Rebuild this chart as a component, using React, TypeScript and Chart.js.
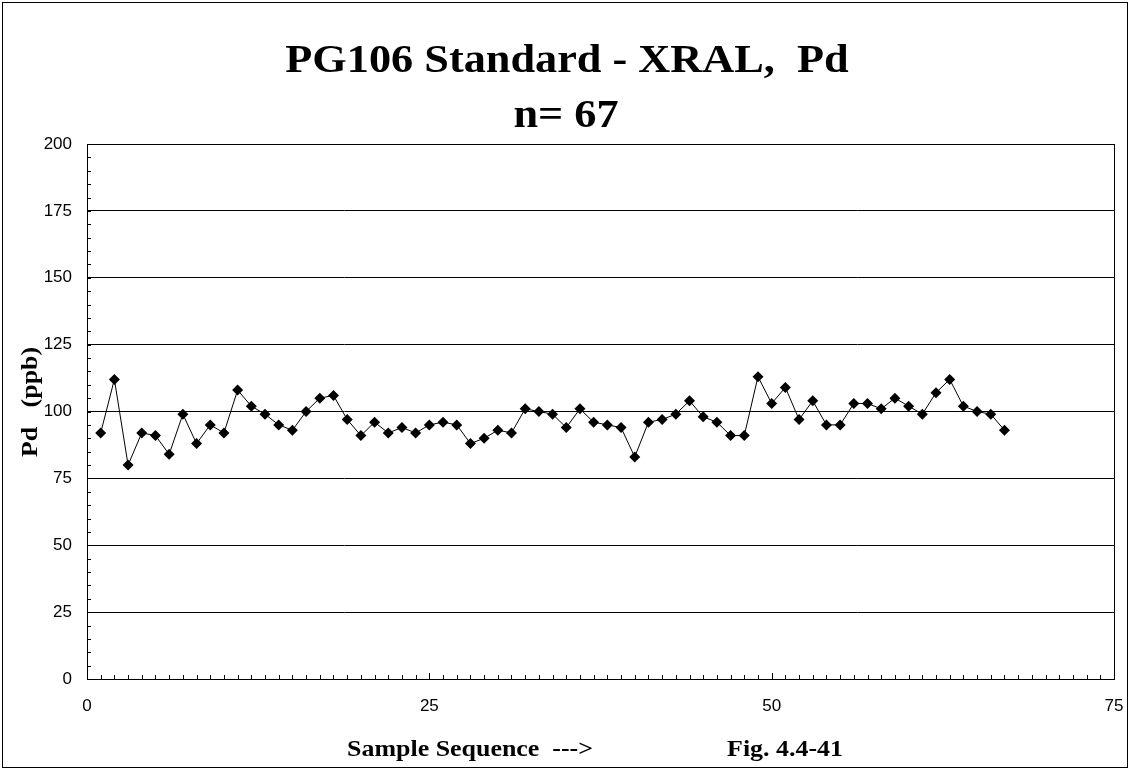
import React, { useEffect, useRef } from 'react';
import { Chart, registerables } from 'chart.js';

Chart.register(...registerables);

const TITLE_LINES = ['PG106 Standard - XRAL,  Pd', 'n= 67'];
const X_TITLE = 'Sample Sequence  --->';
const FIG_LABEL = 'Fig. 4.4-41';
const Y_TITLE = 'Pd   (ppb)';

const PD_VALUES = [
  92, 112, 80, 92, 91, 84, 99, 88, 95, 92,
  108, 102, 99, 95, 93, 100, 105, 106, 97, 91,
  96, 92, 94, 92, 95, 96, 95, 88, 90, 93,
  92, 101, 100, 99, 94, 101, 96, 95, 94, 83,
  96, 97, 99, 104, 98, 96, 91, 91, 113, 103,
  109, 97, 104, 95, 95, 103, 103, 101, 105, 102,
  99, 107, 112, 102, 100, 99, 93,
];

const Y_MIN = 0;
const Y_MAX = 200;
const Y_STEP = 25;
const Y_MINOR = 5;
const X_MIN = 0;
const X_MAX = 75;
const X_STEP = 25;
const X_MINOR = 1;

const SERIF = '"Liberation Serif", "Times New Roman", serif';
const STRETCH = 1.08;

function stretchedText(ctx: CanvasRenderingContext2D, text: string, x: number, y: number, rotate = 0) {
  ctx.save();
  ctx.translate(x, y);
  if (rotate) ctx.rotate(rotate);
  ctx.scale(STRETCH, 1);
  ctx.fillText(text, 0, 0);
  ctx.restore();
}

const decorPlugin = {
  id: 'decor',
  beforeDraw(chart: any) {
    const { ctx, width, height } = chart;
    ctx.save();
    ctx.fillStyle = '#ffffff';
    ctx.fillRect(0, 0, width, height);
    ctx.restore();
  },
  afterDraw(chart: any) {
    const { ctx, chartArea, scales } = chart;
    const xs = scales.x;
    const ys = scales.y;
    ctx.save();
    ctx.strokeStyle = '#000';
    ctx.lineWidth = 1;
    // outer frame
    ctx.strokeRect(2.5, 2.5, 1125, 765);
    // plot frame
    ctx.strokeRect(
      Math.round(chartArea.left) + 0.5,
      Math.round(chartArea.top) + 0.5,
      Math.round(chartArea.right - chartArea.left),
      Math.round(chartArea.bottom - chartArea.top)
    );
    // minor ticks, inside
    ctx.beginPath();
    for (let v = Y_MIN; v <= Y_MAX; v += Y_MINOR) {
      const y = Math.round(ys.getPixelForValue(v)) + 0.5;
      ctx.moveTo(chartArea.left, y);
      ctx.lineTo(chartArea.left + 4, y);
    }
    for (let v = X_MIN; v <= X_MAX; v += X_MINOR) {
      const x = Math.round(xs.getPixelForValue(v)) + 0.5;
      const len = v % X_STEP === 0 ? 6 : 4;
      ctx.moveTo(x, chartArea.bottom);
      ctx.lineTo(x, chartArea.bottom - len);
    }
    ctx.stroke();

    // titles
    ctx.fillStyle = '#000';
    ctx.textAlign = 'center';
    ctx.textBaseline = 'alphabetic';
    ctx.font = `bold 41px ${SERIF}`;
    stretchedText(ctx, TITLE_LINES[0], 567, 72);
    stretchedText(ctx, TITLE_LINES[1], 566, 127);

    ctx.font = `bold 24px ${SERIF}`;
    stretchedText(ctx, X_TITLE, 470, 756);
    stretchedText(ctx, FIG_LABEL, 785, 756);
    stretchedText(ctx, Y_TITLE, 37, 402, -Math.PI / 2);

    ctx.restore();
  },
};

export default function App() {
  const canvasRef = useRef<HTMLCanvasElement | null>(null);

  useEffect(() => {
    const canvas = canvasRef.current;
    if (!canvas) return;
    const chart = new Chart(canvas, {
      type: 'scatter',
      data: {
        datasets: [
          {
            label: 'Pd',
            data: PD_VALUES.map((v, i) => ({ x: i + 1, y: v })),
            showLine: true,
            borderColor: '#000',
            borderWidth: 1,
            backgroundColor: '#000',
            pointStyle: 'rectRot',
            pointRadius: 5.5,
            pointBorderWidth: 0,
            pointBackgroundColor: '#000',
            pointBorderColor: '#000',
          },
        ],
      },
      options: {
        responsive: false,
        animation: false,
        devicePixelRatio: 1,
        layout: { padding: { top: 144, right: 16, left: 0, bottom: 0 } },
        plugins: {
          legend: { display: false },
          title: { display: false },
          tooltip: { enabled: false },
        },
        scales: {
          x: {
            type: 'linear',
            min: X_MIN,
            max: X_MAX,
            ticks: {
              stepSize: X_STEP,
              color: '#000',
              padding: 17,
              font: { family: '"Liberation Sans", Arial, sans-serif', size: 17 },
            },
            grid: { display: false, drawTicks: false },
            border: { display: true, color: '#000', width: 1 },
            afterFit: (s: any) => {
              s.height = 94;
              s.paddingRight = 10;
              s.paddingLeft = 0;
            },
          },
          y: {
            type: 'linear',
            min: Y_MIN,
            max: Y_MAX,
            ticks: {
              stepSize: Y_STEP,
              color: '#000',
              padding: 15,
              font: { family: '"Liberation Sans", Arial, sans-serif', size: 17 },
            },
            grid: { color: '#000', lineWidth: 1, drawTicks: false },
            border: { display: true, color: '#000', width: 1 },
            afterFit: (s: any) => {
              s.width = 87;
            },
          },
        },
      },
      plugins: [decorPlugin],
    });
    return () => chart.destroy();
  }, []);

  return (
    <div style={{ position: 'absolute', left: 0, top: 0, width: 1130, height: 773 }}>
      <canvas ref={canvasRef} width={1130} height={773} style={{ display: 'block' }} />
    </div>
  );
}
